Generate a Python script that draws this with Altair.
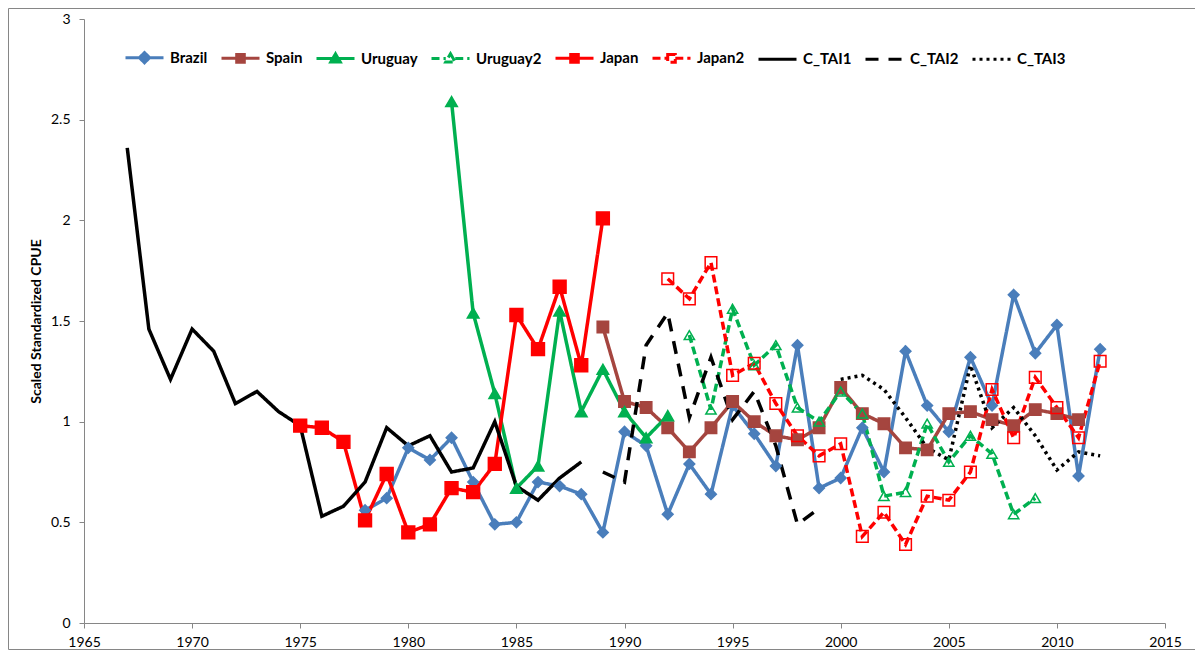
import altair as alt
import pandas as pd

# ---------------- data ----------------
series_names = ["Brazil", "Spain", "Uruguay", "Uruguay2", "Japan", "Japan2",
                "C_TAI1", "C_TAI2", "C_TAI3"]

brazil_start = 1978
brazil = [0.56, 0.62, 0.87, 0.81, 0.92, 0.70, 0.49, 0.50, 0.70, 0.68, 0.64, 0.45,
          0.95, 0.88, 0.54, 0.79, 0.64, 1.08, 0.94, 0.78, 1.38, 0.67, 0.72, 0.97,
          0.75, 1.35, 1.08, 0.95, 1.32, 1.08, 1.63, 1.34, 1.48, 0.73, 1.36]

spain_start = 1989
spain = [1.47, 1.10, 1.07, 0.97, 0.85, 0.97, 1.10, 1.00, 0.93, 0.91, 0.97, 1.17,
         1.04, 0.99, 0.87, 0.86, 1.04, 1.05, 1.01, 0.98, 1.06, 1.04, 1.01]

uruguay_start = 1982
uruguay = [2.59, 1.54, 1.14, 0.67, 0.78, 1.55, 1.05, 1.26, 1.05, 0.92, 1.03]

uruguay2_start = 1993
uruguay2 = [1.43, 1.06, 1.56, 1.28, 1.38, 1.07, 1.00, 1.15, 1.04, 0.63, 0.65,
            0.99, 0.80, 0.93, 0.84, 0.54, 0.62]

japan_start = 1975
japan = [0.98, 0.97, 0.90, 0.51, 0.74, 0.45, 0.49, 0.67, 0.65, 0.79, 1.53, 1.36,
         1.67, 1.28, 2.01]

japan2_start = 1992
japan2 = [1.71, 1.61, 1.79, 1.23, 1.29, 1.09, 0.93, 0.83, 0.89, 0.43, 0.55, 0.39,
          0.63, 0.61, 0.75, 1.16, 0.92, 1.22, 1.07, 0.92, 1.30]

ctai1_start = 1967
ctai1 = [2.36, 1.46, 1.21, 1.46, 1.35, 1.09, 1.15, 1.05, 0.98, 0.53, 0.58, 0.70,
         0.97, 0.88, 0.93, 0.75, 0.77, 1.00, 0.68, 0.61, 0.72, 0.80]

ctai2_start = 1989
ctai2 = [0.75, 0.70, 1.38, 1.54, 1.02, 1.32, 1.01, 1.15, 0.88, 0.49, 0.57]

ctai3_start = 2000
ctai3 = [1.21, 1.23, 1.16, 1.02, 0.87, 0.81, 1.28, 0.97, 1.07, 0.93, 0.76, 0.85, 0.83]

x_ticks = [1965, 1970, 1975, 1980, 1985, 1990, 1995, 2000, 2005, 2010, 2015]
y_ticks = [0, 0.5, 1, 1.5, 2, 2.5, 3]

# ---------------- build table ----------------
series_defs = [
    ("Brazil", brazil_start, brazil), ("Spain", spain_start, spain),
    ("Uruguay", uruguay_start, uruguay), ("Uruguay2", uruguay2_start, uruguay2),
    ("Japan", japan_start, japan), ("Japan2", japan2_start, japan2),
    ("C_TAI1", ctai1_start, ctai1), ("C_TAI2", ctai2_start, ctai2),
    ("C_TAI3", ctai3_start, ctai3),
]
rows = []
for name, start, vals in series_defs:
    for i, v in enumerate(vals):
        rows.append({"series": name, "year": start + i, "cpue": v})
df = pd.DataFrame(rows)

# ---------------- styles ----------------
colors = ["#4A7EBB", "#A5453F", "#00B050", "#00B050", "#FF0000", "#FF0000",
          "#000000", "#000000", "#000000"]
dashes = [[1, 0], [1, 0], [1, 0], [8, 4], [1, 0], [8, 4], [1, 0], [13, 10], [3, 4]]
fills = ["#4A7EBB", "#A5453F", "#00B050", "transparent", "#FF0000", "transparent",
         "transparent", "transparent", "transparent"]
legend_paths = [
    "M-1,0L1,0M0,-0.27L0.27,0L0,0.27L-0.27,0Z",
    "M-1,0L1,0M-0.2,-0.2L0.2,-0.2L0.2,0.2L-0.2,0.2Z",
    "M-1,0L1,0M0,-0.25L0.25,0.18L-0.25,0.18Z",
    "M-1,0L-0.25,0M0.25,0L1,0M0,-0.25L0.25,0.18L-0.25,0.18Z",
    "M-1,0L1,0M-0.2,-0.2L0.2,-0.2L0.2,0.2L-0.2,0.2Z",
    "M-1,0L-0.2,0M0.2,0L1,0M-0.2,-0.2L0.2,-0.2L0.2,0.2L-0.2,0.2Z",
    "M-1,0L1,0",
    "M-1,0L1,0",
    "M-1,0L1,0",
]
# marker layers: (series, shape, size)
marker_specs = [
    ("Brazil", "diamond", 115),
    ("Spain", "square", 130),
    ("Uruguay", "triangle-up", 135),
    ("Uruguay2", "triangle-up", 105),
    ("Japan", "square", 165),
    ("Japan2", "square", 135),
]

legend = alt.Legend(
    title=None, orient="none", direction="horizontal", legendX=40, legendY=18,
    symbolSize=1444, symbolStrokeWidth=3, symbolOpacity=1, labelFont="Lato",
    labelFontSize=15, labelFontWeight="bold", labelColor="#000000", labelOffset=5,
    columnPadding=7,
)

color_scale = alt.Scale(domain=series_names, range=colors)
dash_scale = alt.Scale(domain=series_names, range=dashes)
fill_scale = alt.Scale(domain=series_names, range=fills)

x_enc = alt.X("year:Q", scale=alt.Scale(domain=[1965, 2015], nice=False, zero=False),
              axis=alt.Axis(values=x_ticks, format="d", title=None, grid=False,
                            domainColor="#868686", tickColor="#868686", tickSize=5,
                            labelFont="Lato", labelFontSize=14, labelColor="#000000",
                            labelPadding=7, labelFlush=False))
y_enc = alt.Y("cpue:Q", scale=alt.Scale(domain=[0, 3], nice=False),
              axis=alt.Axis(values=y_ticks, format="~g", title="Scaled Standardized CPUE",
                            grid=False, domainColor="#868686", tickColor="#868686",
                            tickSize=5, labelFont="Lato", labelFontSize=14,
                            labelColor="#000000", labelPadding=9, labelFlush=False,
                            titleFont="Lato", titleFontSize=14, titleFontWeight="bold",
                            titleColor="#000000", titlePadding=7))

lines = alt.Chart(df).mark_line(strokeWidth=3.5).encode(
    x=x_enc, y=y_enc,
    color=alt.Color("series:N", scale=color_scale, legend=legend),
    strokeDash=alt.StrokeDash("series:N", scale=dash_scale, legend=legend),
    detail="series:N",
)

point_layers = []
for name, shp, sz in marker_specs:
    point_layers.append(
        alt.Chart(df).transform_filter(alt.datum.series == name).mark_point(
            shape=shp, filled=False, size=sz, strokeWidth=1.5, opacity=1
        ).encode(
            x="year:Q", y="cpue:Q",
            color=alt.Color("series:N", scale=color_scale, legend=legend),
            fill=alt.Fill("series:N", scale=fill_scale, legend=legend),
        )
    )

# invisible points (size 0) whose only job is to carry the merged legend
legend_layer = alt.Chart(df).mark_point(filled=False, size=0).encode(
    x="year:Q", y="cpue:Q",
    color=alt.Color("series:N", scale=color_scale, legend=legend),
    strokeDash=alt.StrokeDash("series:N", scale=dash_scale, legend=legend),
    shape=alt.Shape("series:N", scale=alt.Scale(domain=series_names, range=legend_paths),
                    legend=legend),
    fill=alt.Fill("series:N", scale=fill_scale, legend=legend),
)

frame = alt.Chart(alt.Data(values=[{"a": 1}])).mark_rect(
    fill="transparent", stroke="#868686", strokeWidth=1
).encode(x=alt.value(-75.5), x2=alt.value(1113.5), y=alt.value(-10.5), y2=alt.value(630.5))

chart = alt.layer(frame, lines, *point_layers, legend_layer).properties(
    width=1081, height=604,
    autosize=alt.AutoSizeParams(type="none"),
    padding={"left": 76, "top": 11, "right": 30, "bottom": 28},
    background="white",
).configure_view(stroke=None)

chart.save("out.html", embed_options={"renderer": "svg", "actions": False})
